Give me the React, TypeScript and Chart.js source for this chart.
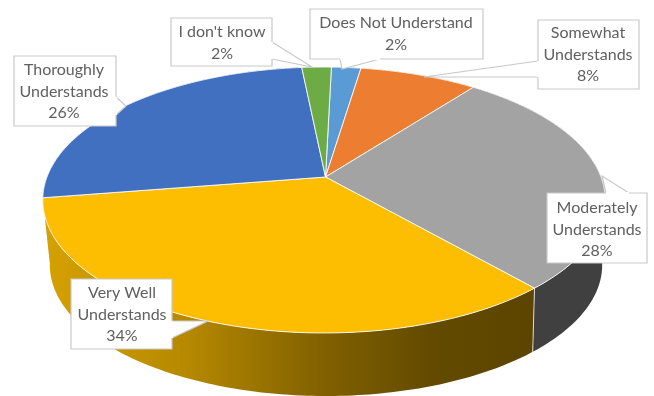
import React, { useEffect, useRef } from "react";
import { Chart, registerables } from "chart.js";

Chart.register(...registerables);

const categories = [
  "Does Not Understand",
  "Somewhat Understands",
  "Moderately Understands",
  "Very Well Understands",
  "Thoroughly Understands",
  "I don't know",
];
const shares = [2, 8, 28, 34, 26, 2];
const sliceColors = ["#5B9BD5", "#ED7D31", "#A3A3A3", "#FDBD00", "#4070BF", "#6DAC45"];
const wallColors = ["#2F5F8F", "#9E5019", "#404040", "#806000", "#264478", "#43682B"];
const labelLines = [
  ["Does Not Understand"],
  ["Somewhat", "Understands"],
  ["Moderately", "Understands"],
  ["Very Well", "Understands"],
  ["Thoroughly", "Understands"],
  ["I don't know"],
];

// Callout geometry: box x, y, w, h, text centre x, first line centre y, pointer polygon.
type Callout = { x: number; y: number; w: number; h: number; tx: number; ty: number; ptr: number[][] };
const callouts: Callout[] = [
  { x: 310, y: 9, w: 173, h: 50, tx: 396, ty: 23, ptr: [[340, 59], [342, 69], [380, 59]] },
  { x: 538, y: 20, w: 101, h: 69, tx: 588, ty: 33, ptr: [[538, 61], [424, 77], [538, 77]] },
  { x: 547, y: 193, w: 100, h: 70, tx: 597, ty: 208, ptr: [[606, 193], [602, 176], [629, 193]] },
  { x: 71, y: 279, w: 101, h: 70, tx: 122, ty: 293, ptr: [[172, 321], [208, 321], [172, 338]] },
  { x: 14, y: 56, w: 102, h: 70, tx: 64, ty: 70, ptr: [[116, 97], [126, 106], [116, 115]] },
  { x: 171, y: 18, w: 101, h: 48, tx: 222, ty: 32, ptr: [[272, 42], [312, 67], [272, 59]] },
];

// Perspective view of the pie disc: the hub sits above the centre of the rim ellipse.
const RIM_X = 324;
const HUB_X = 325.5;
const HUB_Y = 177;
const AXIS_X = 277;
const AXIS_Y = 129;
const TILT = 0.173;
const project = (angle: number) => {
  const u = Math.cos(angle);
  const v = -Math.sin(angle);
  const w = 1 + TILT * v;
  return [RIM_X + (AXIS_X * u) / w, HUB_Y - (AXIS_Y * v) / w];
};
// The lower rim is a slightly smaller copy of the upper rim, shifted down.
const lowerRim = ([x, y]: number[]) => [326 + (x - 324) * 0.982, 265 + (y - 200) * 0.985];

const rimPoints = (start: number, end: number) => {
  const steps = Math.max(2, Math.ceil(((end - start) * 180) / Math.PI));
  const pts: number[][] = [];
  for (let i = 0; i <= steps; i++) pts.push(project(start + ((end - start) * i) / steps));
  return pts;
};

const tracePolygon = (ctx: CanvasRenderingContext2D, pts: number[][]) => {
  ctx.beginPath();
  pts.forEach(([x, y], i) => (i ? ctx.lineTo(x, y) : ctx.moveTo(x, y)));
  ctx.closePath();
};

const pie3d = {
  id: "pie3d",
  beforeDatasetsDraw(chart: Chart) {
    const ctx = chart.ctx;
    const arcs = chart.getDatasetMeta(0).data as any[];
    const order = [5, 0, 1, 4, 2, 3];
    ctx.save();
    ctx.lineJoin = "round";
    for (const i of order) {
      const rim = rimPoints(arcs[i].startAngle, arcs[i].endAngle);
      tracePolygon(ctx, [...rim, ...rim.map(lowerRim).reverse()]);
      if (i === 3) {
        const g = ctx.createLinearGradient(43, 0, 530, 0);
        g.addColorStop(0, "#D6A100");
        g.addColorStop(0.3, "#B58800");
        g.addColorStop(0.58, "#806000");
        g.addColorStop(0.8, "#634A00");
        g.addColorStop(1, "#5C4500");
        ctx.fillStyle = g;
      } else {
        ctx.fillStyle = wallColors[i];
      }
      ctx.fill();
      const a = rim[0];
      const b = lowerRim(a);
      ctx.strokeStyle = "rgba(255,255,255,0.75)";
      ctx.lineWidth = 1;
      ctx.beginPath();
      ctx.moveTo(a[0], a[1]);
      ctx.lineTo(b[0], b[1]);
      ctx.stroke();
    }
    for (let i = 0; i < arcs.length; i++) {
      const rim = rimPoints(arcs[i].startAngle, arcs[i].endAngle);
      tracePolygon(ctx, [[HUB_X, HUB_Y], ...rim]);
      ctx.fillStyle = sliceColors[i];
      ctx.fill();
      ctx.strokeStyle = "rgba(255,255,255,0.85)";
      ctx.lineWidth = 1;
      ctx.stroke();
    }
    ctx.restore();
    return false;
  },
  afterDraw(chart: Chart) {
    const ctx = chart.ctx;
    ctx.save();
    callouts.forEach((c, i) => {
      const corners = [[c.x, c.y], [c.x + c.w, c.y], [c.x + c.w, c.y + c.h], [c.x, c.y + c.h]];
      ctx.fillStyle = "#FFFFFF";
      ctx.strokeStyle = "#C9C9C9";
      ctx.lineWidth = 1.2;
      tracePolygon(ctx, corners);
      ctx.fill();
      ctx.stroke();
      tracePolygon(ctx, c.ptr);
      ctx.fill();
      ctx.beginPath();
      c.ptr.forEach(([x, y], k) => (k ? ctx.lineTo(x, y) : ctx.moveTo(x, y)));
      ctx.stroke();
      // Cover the box edge where the pointer leaves it.
      ctx.beginPath();
      ctx.moveTo(c.ptr[0][0], c.ptr[0][1]);
      ctx.lineTo(c.ptr[2][0], c.ptr[2][1]);
      ctx.strokeStyle = "#FFFFFF";
      ctx.lineWidth = 2;
      ctx.stroke();

      ctx.fillStyle = "#606060";
      ctx.font = "16px Lato";
      ctx.textAlign = "center";
      ctx.textBaseline = "middle";
      [...labelLines[i], `${shares[i]}%`].forEach((line, k) => {
        ctx.fillText(line, c.tx, c.ty + k * 21.6);
      });
    });
    ctx.restore();
  },
};

export default function App() {
  const ref = useRef<HTMLCanvasElement>(null);
  useEffect(() => {
    const chart = new Chart(ref.current!, {
      type: "pie",
      data: {
        labels: categories,
        datasets: [{ data: shares, backgroundColor: sliceColors }],
      },
      options: {
        responsive: false,
        animation: false,
        rotation: 1.8,
        plugins: { legend: { display: false }, tooltip: { enabled: false } },
      },
      plugins: [pie3d],
    });
    return () => chart.destroy();
  }, []);
  return (
    <canvas
      ref={ref}
      width={654}
      height={396}
      style={{ position: "absolute", left: 0, top: 0, display: "block" }}
    />
  );
}
